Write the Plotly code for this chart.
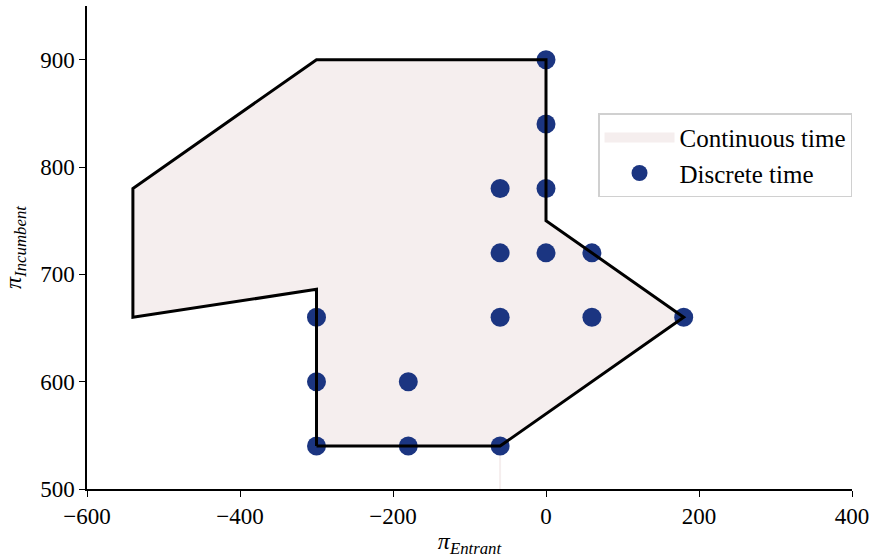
import plotly.graph_objects as go

# Continuous-time region (polygon vertices)
region_x = [-300, -60, 180, 0, 0, -300, -540, -540, -300, -300]
region_y = [540, 540, 660, 750, 900, 900, 780, 660, 686, 540]

# Discrete-time equilibria
disc_x = [0, 0, 0, -60, -60, 0, 60, -60, 60, 180, -300, -300, -180, -300, -180, -60]
disc_y = [900, 840, 780, 780, 720, 720, 720, 660, 660, 660, 660, 600, 600, 540, 540, 540]

x_ticks = [-600, -400, -200, 0, 200, 400]
y_ticks = [500, 600, 700, 800, 900]

FILL = "#f5eeee"
DOT = "#1b3581"
FONT = "Liberation Serif"

fig = go.Figure()
fig.add_trace(go.Scatter(x=region_x, y=region_y, fill="toself", fillcolor=FILL,
                         mode="lines", line=dict(width=0, color=FILL),
                         name="Continuous time", showlegend=False))
fig.add_trace(go.Scatter(x=[None], y=[None], mode="lines",
                         line=dict(color=FILL, width=20),
                         name="Continuous time", showlegend=True))
fig.add_trace(go.Scatter(x=[-60, -60], y=[540, 500], mode="lines",
                         line=dict(color=FILL, width=2), showlegend=False, hoverinfo="skip"))
fig.add_trace(go.Scatter(x=disc_x, y=disc_y, mode="markers",
                         marker=dict(color=DOT, size=19, line=dict(width=0)),
                         name="Discrete time"))
fig.add_trace(go.Scatter(x=region_x, y=region_y, mode="lines",
                         line=dict(color="black", width=3), showlegend=False))

tick_text_x = [str(v).replace("-", "−") for v in x_ticks]
tick_text_y = [str(v) for v in y_ticks]

fig.update_layout(
    width=874, height=560,
    margin=dict(l=87, r=22, t=6, b=71),
    paper_bgcolor="white", plot_bgcolor="white",
    font=dict(family=FONT, size=23, color="black"),
    legend=dict(x=0.668, y=0.778, xanchor="left", yanchor="top",
                bgcolor="white", bordercolor="#d0d0d0", borderwidth=1.5,
                font=dict(size=25, family=FONT), itemsizing="trace",
                itemwidth=70, tracegroupgap=0),
    xaxis=dict(range=[-600, 400], tickvals=x_ticks, ticktext=tick_text_x,
               showgrid=False, zeroline=False, showline=True, linecolor="black",
               linewidth=1.5, ticks="outside", ticklen=6, tickwidth=1.2,
               tickcolor="black", automargin=False,
               title=dict(text="<i>π</i><sub><i>Entrant</i></sub>", standoff=4,
                          font=dict(size=24))),
    yaxis=dict(range=[500, 950], tickvals=y_ticks, ticktext=tick_text_y,
               showgrid=False, zeroline=False, showline=True, linecolor="black",
               linewidth=1.5, ticks="outside", ticklen=6, tickwidth=1.2,
               tickcolor="black", automargin=False,
               title=dict(text="<i>π</i><sub><i>Incumbent</i></sub>", standoff=12,
                          font=dict(size=24))),
)

fig.write_html("out.html", config={"displayModeBar": False},
               post_script="document.body.style.margin='0';")
